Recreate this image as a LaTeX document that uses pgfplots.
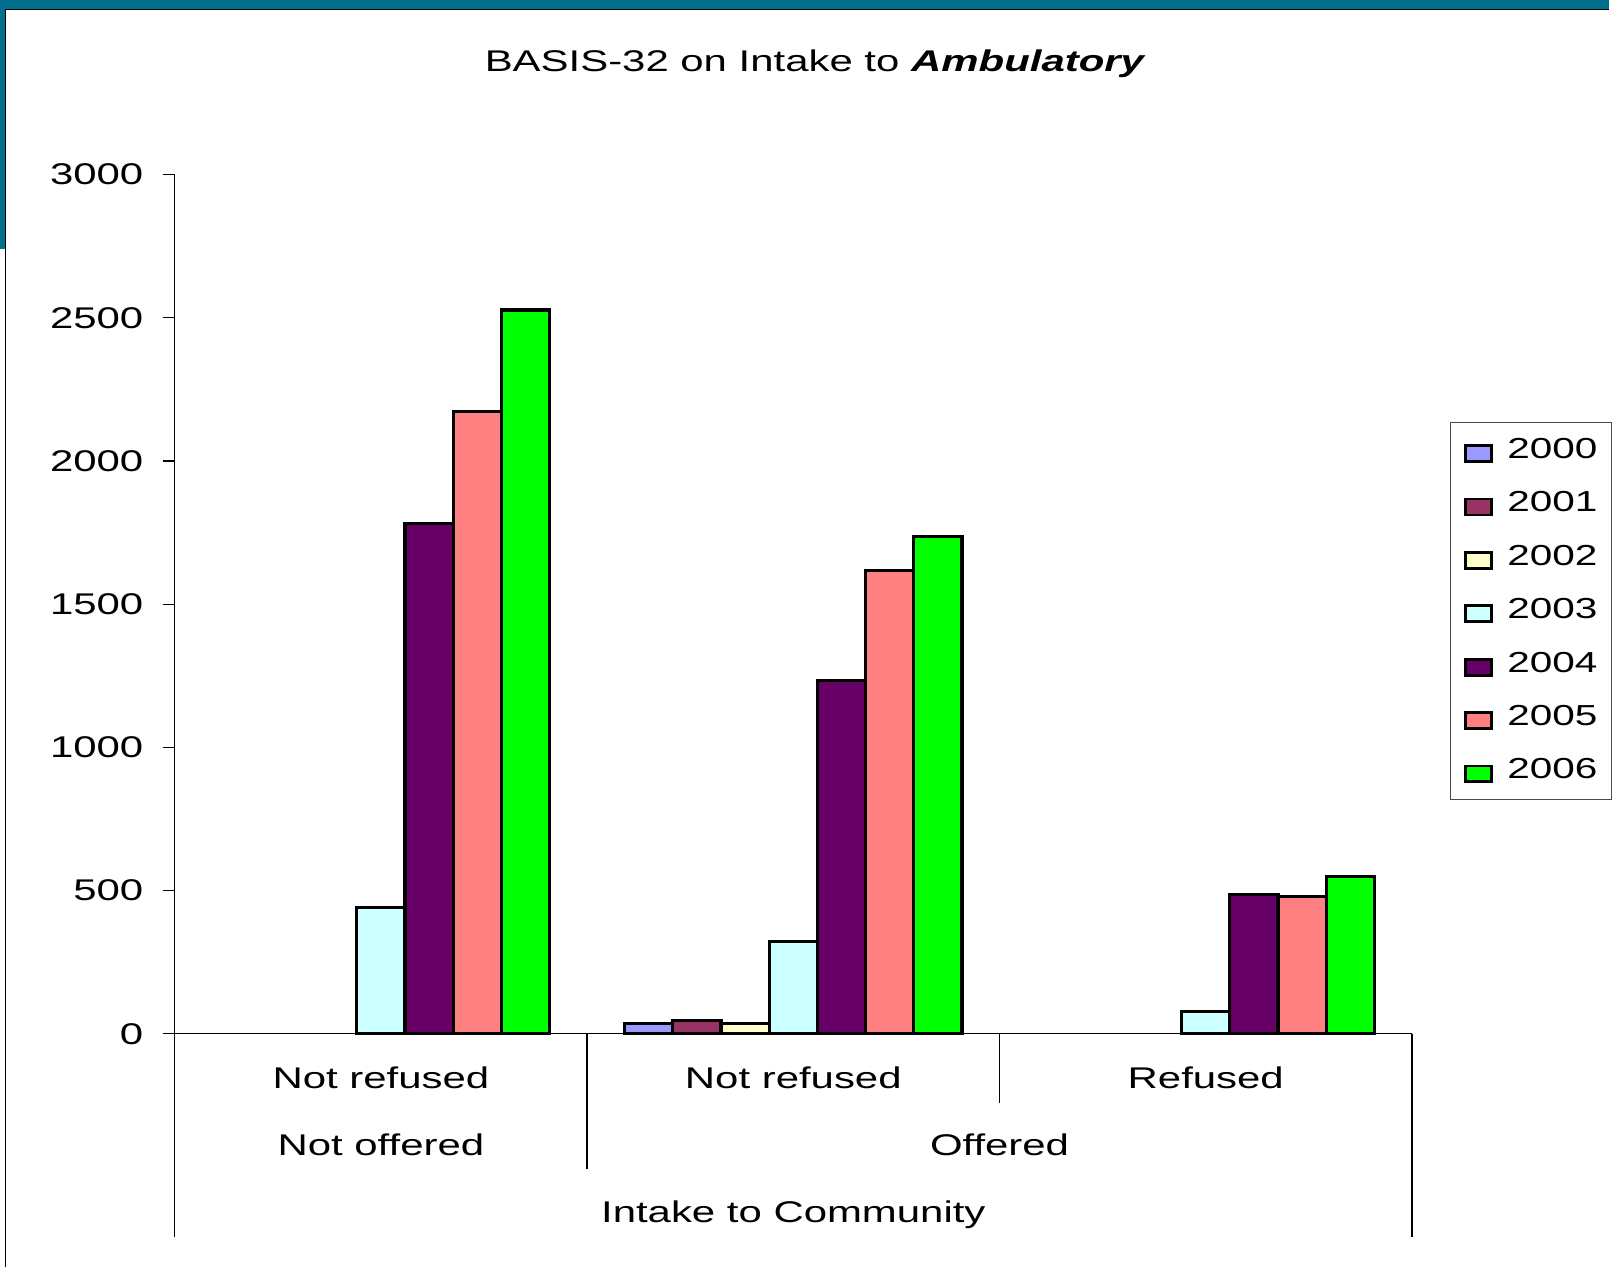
\documentclass[border=0pt]{standalone}
\usepackage{fontspec}
\setmainfont[FakeStretch=1.4]{Liberation Sans}
\usepackage{pgfplots}
\pgfplotsset{compat=1.18}
\definecolor{frameteal}{RGB}{0,112,140}
\definecolor{c2000}{HTML}{9999FF}
\definecolor{c2001}{HTML}{993366}
\definecolor{c2002}{HTML}{FFFFCC}
\definecolor{c2003}{HTML}{CCFFFF}
\definecolor{c2004}{HTML}{660066}
\definecolor{c2005}{HTML}{FF8080}
\definecolor{c2006}{HTML}{00FF00}
\newcommand{\axfont}{\fontsize{15}{18}\selectfont}
\pgfplotsset{
  mybar/.style={draw=black, line width=1.6pt,
    legend image code/.code={\draw[##1, line width=1.4pt] (0pt,-6.5pt) rectangle (13pt,1.5pt); \path (20pt,0pt);}}
}
\begin{document}
\begin{tikzpicture}[font=\axfont]
\begin{scope}[x=0.5pt,y=0.5pt]
\useasboundingbox (0,0) rectangle (1612,1270);
\fill[white] (0,0) rectangle (1612,1270);
\fill[frameteal] (0,1261) rectangle (1612,1270);
\fill[frameteal] (0,1020) rectangle (5,1270);
\draw[black, line width=0.6pt] (5.5,0) -- (5.5,1260.5) -- (1612,1260.5);
\node[anchor=base, inner sep=0pt] at (817,1198.3) {BASIS-32 on Intake to \textbf{\textit{Ambulatory}}};
\end{scope}
\begin{axis}[
  at={(87.5pt,117pt)}, anchor=south west,
  width=620pt, height=430.5pt, scale only axis,
  xmin=-0.5, xmax=2.5, ymin=0, ymax=3000,
  axis x line*=bottom, axis y line*=left,
  axis line style={line width=0.6pt, black},
  clip=false,
  ytick={0,500,1000,1500,2000,2500,3000},
  xtick={0,1,2},
  xticklabels={Not refused,Not refused,Refused},
  tick align=outside,
  major tick length=6pt,
  xtick style={draw=none},
  ytick style={line width=0.6pt, black},
  ticklabel style={font=\axfont},
  yticklabel style={/pgf/number format/1000 sep={}, /pgf/number format/assume math mode=true, anchor=east, inner sep=0pt, xshift=-9.5pt},
  xticklabel style={anchor=base, inner sep=0pt, yshift=-21.5pt},
  ybar=0pt, bar width=0.1169,
  legend style={at={(rel axis cs:1.0306,0.712)}, anchor=north west,
    draw=black!70, line width=0.6pt, font=\fontsize{14.5}{16}\selectfont,
    inner xsep=7pt, inner ysep=8pt, row sep=14.55pt,
    nodes={inner sep=0pt, text height=10pt, text depth=0pt}},
  legend cell align=left,
]
\addplot[mybar, fill=c2000] coordinates {(1,37)};
\addplot[mybar, fill=c2001] coordinates {(1,46)};
\addplot[mybar, fill=c2002] coordinates {(1,35)};
\addplot[mybar, fill=c2003] coordinates {(0,440) (1,322) (2,77)};
\addplot[mybar, fill=c2004] coordinates {(0,1783) (1,1235) (2,487)};
\addplot[mybar, fill=c2005] coordinates {(0,2173) (1,1618) (2,478)};
\addplot[mybar, fill=c2006] coordinates {(0,2527) (1,1736) (2,548)};
\legend{2000,2001,2002,2003,2004,2005,2006}
\draw[line width=0.6pt] (axis cs:-0.5,0) -- ++(0pt,-102pt);
\draw[line width=0.6pt] (axis cs:0.5,0) -- ++(0pt,-68pt);
\draw[line width=0.6pt] (axis cs:1.5,0) -- ++(0pt,-34.5pt);
\draw[line width=0.6pt] (axis cs:2.5,0) -- ++(0pt,-102pt);
\node[anchor=base, inner sep=0pt, yshift=-60.8pt] at (axis cs:0,0) {Not offered};
\node[anchor=base, inner sep=0pt, yshift=-60.8pt] at (axis cs:1.5,0) {Offered};
\node[anchor=base, inner sep=0pt, yshift=-94.5pt] at (axis cs:1,0) {Intake to Community};
\end{axis}
\end{tikzpicture}
\end{document}
